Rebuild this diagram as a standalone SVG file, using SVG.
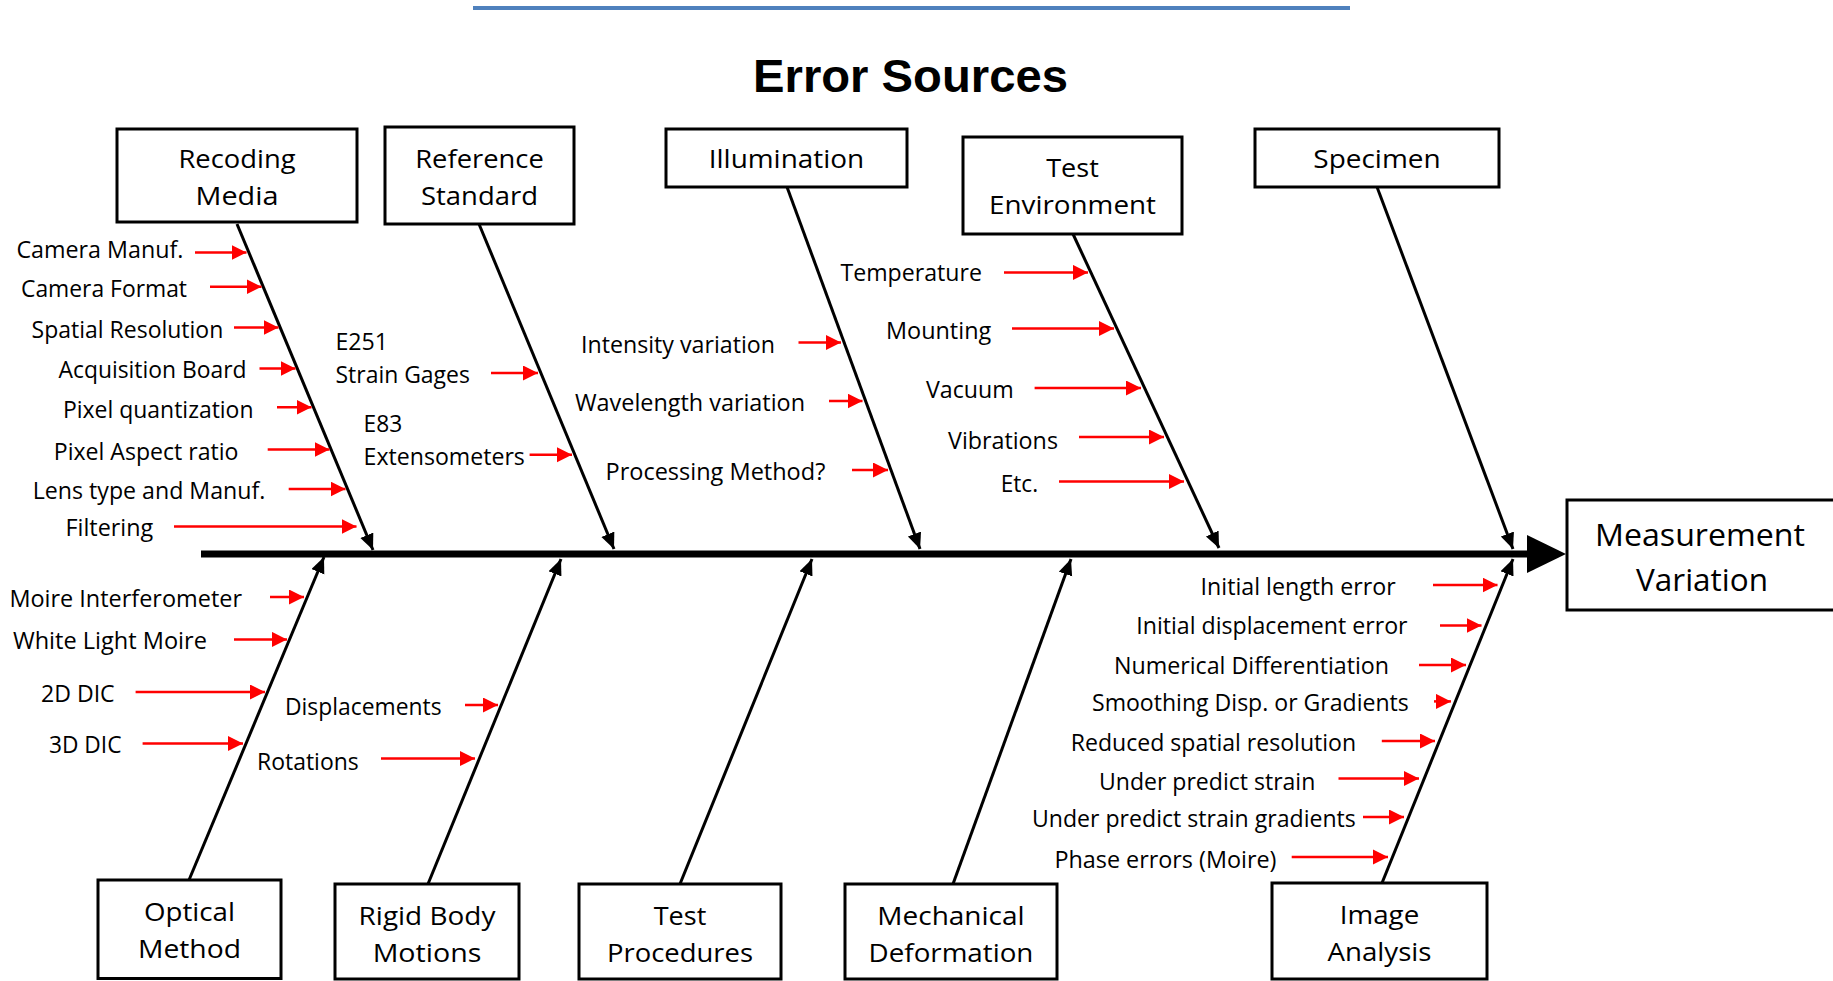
<svg xmlns="http://www.w3.org/2000/svg" width="1833" height="981" viewBox="0 0 1833 981">
<style>
.box{fill:#fff;stroke:#000;stroke-width:3}
.bt{font-family:"Open Sans","Noto Sans",sans-serif;font-size:25px;fill:#000;text-anchor:middle}
.mt{font-family:"Open Sans","Noto Sans",sans-serif;font-size:31px;fill:#000;text-anchor:middle}
.lb{font-family:"Open Sans","Noto Sans",sans-serif;font-size:23.5px;fill:#000}
.bone{stroke:#000;stroke-width:3;fill:none;marker-end:url(#bk)}
.ra{stroke:#f00;stroke-width:2.5;fill:none;marker-end:url(#rd)}
</style>
<defs>
<marker id="bk" markerUnits="userSpaceOnUse" markerWidth="17" markerHeight="15" refX="16" refY="7" orient="auto"><path d="M0,0 L16,7 L0,14 z" fill="#000"/></marker>
<marker id="rd" markerUnits="userSpaceOnUse" markerWidth="16" markerHeight="16" refX="15" refY="7.5" orient="auto"><path d="M0,0 L15,7.5 L0,15 z" fill="#f00"/></marker>
</defs>
<rect width="1833" height="981" fill="#fff"/>
<line x1="473" y1="8" x2="1350" y2="8" stroke="#4F81BD" stroke-width="4"/>
<text x="910.5" y="92" font-family="Liberation Sans, Arial, sans-serif" font-weight="bold" font-size="46" text-anchor="middle" textLength="315" lengthAdjust="spacingAndGlyphs">Error Sources</text>

<g id="connectors">
<line x1="201" y1="554" x2="1530" y2="554" stroke="#000" stroke-width="7"/>
<polygon points="1527,535 1566,554 1527,573" fill="#000"/>
<line class="bone" x1="237" y1="224" x2="373" y2="550"/>
<line class="bone" x1="479" y1="224" x2="614" y2="549"/>
<line class="bone" x1="787" y1="187" x2="920" y2="549"/>
<line class="bone" x1="1073" y1="234" x2="1219" y2="548"/>
<line class="bone" x1="1377" y1="187" x2="1513" y2="549"/>
<line class="bone" x1="189" y1="880" x2="324" y2="557"/>
<line class="bone" x1="428" y1="884" x2="561" y2="559"/>
<line class="bone" x1="680" y1="884" x2="812" y2="559"/>
<line class="bone" x1="953" y1="884" x2="1071" y2="559"/>
<line class="bone" x1="1382" y1="883" x2="1513" y2="559"/>
<line class="ra" x1="195" y1="252.5" x2="246.5" y2="252.5"/>
<line class="ra" x1="210" y1="286.7" x2="261.5" y2="286.7"/>
<line class="ra" x1="234" y1="327.5" x2="278.5" y2="327.5"/>
<line class="ra" x1="259.5" y1="368.5" x2="295.5" y2="368.5"/>
<line class="ra" x1="277" y1="407.3" x2="311.5" y2="407.3"/>
<line class="ra" x1="267.7" y1="449.5" x2="329.5" y2="449.5"/>
<line class="ra" x1="288.7" y1="489" x2="345.5" y2="489"/>
<line class="ra" x1="174" y1="526.5" x2="356.5" y2="526.5"/>
<line class="ra" x1="491" y1="373" x2="538" y2="373"/>
<line class="ra" x1="529.6" y1="454.7" x2="572" y2="454.7"/>
<line class="ra" x1="798.5" y1="342.5" x2="841" y2="342.5"/>
<line class="ra" x1="829" y1="401" x2="862.5" y2="401"/>
<line class="ra" x1="852" y1="470" x2="888" y2="470"/>
<line class="ra" x1="1004" y1="272.4" x2="1088" y2="272.4"/>
<line class="ra" x1="1012" y1="328.5" x2="1114" y2="328.5"/>
<line class="ra" x1="1034.6" y1="388" x2="1141" y2="388"/>
<line class="ra" x1="1079" y1="437" x2="1164" y2="437"/>
<line class="ra" x1="1059" y1="481.6" x2="1184" y2="481.6"/>
<line class="ra" x1="270" y1="597" x2="304" y2="597"/>
<line class="ra" x1="234" y1="639.4" x2="287" y2="639.4"/>
<line class="ra" x1="135.6" y1="692" x2="265" y2="692"/>
<line class="ra" x1="142.6" y1="743.5" x2="243" y2="743.5"/>
<line class="ra" x1="465" y1="705" x2="498" y2="705"/>
<line class="ra" x1="381" y1="758.6" x2="475" y2="758.6"/>
<line class="ra" x1="1433" y1="585" x2="1497.5" y2="585"/>
<line class="ra" x1="1440" y1="625.4" x2="1481.5" y2="625.4"/>
<line class="ra" x1="1419" y1="665" x2="1466" y2="665"/>
<line class="ra" x1="1434" y1="701.4" x2="1451" y2="701.4"/>
<line class="ra" x1="1381.8" y1="741" x2="1435" y2="741"/>
<line class="ra" x1="1338.5" y1="778.5" x2="1419" y2="778.5"/>
<line class="ra" x1="1363" y1="817" x2="1404" y2="817"/>
<line class="ra" x1="1291.7" y1="856.9" x2="1388" y2="856.9"/>
</g>

<g id="recording-media">
<rect class="box" x="117" y="129" width="240" height="93"/>
<text class="bt" x="237" y="168" textLength="117" lengthAdjust="spacingAndGlyphs">Recoding</text>
<text class="bt" x="237" y="205" textLength="83" lengthAdjust="spacingAndGlyphs">Media</text>
<text class="lb" x="16.4" y="258" textLength="167" lengthAdjust="spacingAndGlyphs">Camera Manuf.</text>
<text class="lb" x="21" y="296.6" textLength="166" lengthAdjust="spacingAndGlyphs">Camera Format</text>
<text class="lb" x="31.6" y="337.5" textLength="191.7" lengthAdjust="spacingAndGlyphs">Spatial Resolution</text>
<text class="lb" x="58.5" y="378.4" textLength="188" lengthAdjust="spacingAndGlyphs">Acquisition Board</text>
<text class="lb" x="63" y="418" textLength="190.5" lengthAdjust="spacingAndGlyphs">Pixel quantization</text>
<text class="lb" x="53.8" y="460" textLength="184.7" lengthAdjust="spacingAndGlyphs">Pixel Aspect ratio</text>
<text class="lb" x="32.7" y="499" textLength="232.6" lengthAdjust="spacingAndGlyphs">Lens type and Manuf.</text>
<text class="lb" x="65.5" y="536" textLength="87.7" lengthAdjust="spacingAndGlyphs">Filtering</text>
</g>

<g id="reference-standard">
<rect class="box" x="385" y="127" width="189" height="97"/>
<text class="bt" x="479.5" y="167.5" textLength="128.6" lengthAdjust="spacingAndGlyphs">Reference</text>
<text class="bt" x="479.5" y="205" textLength="117" lengthAdjust="spacingAndGlyphs">Standard</text>
<text class="lb" x="335.5" y="350" textLength="52.6" lengthAdjust="spacingAndGlyphs">E251</text>
<text class="lb" x="335.5" y="383" textLength="134.4" lengthAdjust="spacingAndGlyphs">Strain Gages</text>
<text class="lb" x="363.6" y="432" textLength="38.6" lengthAdjust="spacingAndGlyphs">E83</text>
<text class="lb" x="363.6" y="465" textLength="161.3" lengthAdjust="spacingAndGlyphs">Extensometers</text>
</g>

<g id="illumination">
<rect class="box" x="666" y="129" width="241" height="58"/>
<text class="bt" x="786.5" y="168" textLength="155.5" lengthAdjust="spacingAndGlyphs">Illumination</text>
<text class="lb" x="581" y="352.7" textLength="194" lengthAdjust="spacingAndGlyphs">Intensity variation</text>
<text class="lb" x="575" y="411" textLength="230" lengthAdjust="spacingAndGlyphs">Wavelength variation</text>
<text class="lb" x="605.5" y="480" textLength="219.8" lengthAdjust="spacingAndGlyphs">Processing Method?</text>
</g>

<g id="test-environment">
<rect class="box" x="963" y="137" width="219" height="97"/>
<text class="bt" x="1072.5" y="177" textLength="52.6" lengthAdjust="spacingAndGlyphs">Test</text>
<text class="bt" x="1072.5" y="214" textLength="167" lengthAdjust="spacingAndGlyphs">Environment</text>
<text class="lb" x="840.5" y="281.4" textLength="141.4" lengthAdjust="spacingAndGlyphs">Temperature</text>
<text class="lb" x="886" y="338.7" textLength="105.2" lengthAdjust="spacingAndGlyphs">Mounting</text>
<text class="lb" x="926" y="398" textLength="87.7" lengthAdjust="spacingAndGlyphs">Vacuum</text>
<text class="lb" x="948" y="448.5" textLength="110" lengthAdjust="spacingAndGlyphs">Vibrations</text>
<text class="lb" x="1000.7" y="491.8" textLength="37.4" lengthAdjust="spacingAndGlyphs">Etc.</text>
</g>

<g id="specimen">
<rect class="box" x="1255" y="129" width="244" height="58"/>
<text class="bt" x="1377" y="168" textLength="127.4" lengthAdjust="spacingAndGlyphs">Specimen</text>
</g>

<g id="measurement-variation">
<rect class="box" x="1567" y="500" width="270" height="110"/>
<text class="mt" x="1700" y="546" textLength="210" lengthAdjust="spacingAndGlyphs">Measurement</text>
<text class="mt" x="1702" y="591" textLength="132" lengthAdjust="spacingAndGlyphs">Variation</text>
</g>

<g id="optical-method">
<rect class="box" x="98" y="880" width="183" height="98.5"/>
<text class="bt" x="189.5" y="920.5" textLength="91" lengthAdjust="spacingAndGlyphs">Optical</text>
<text class="bt" x="189.5" y="957.5" textLength="103" lengthAdjust="spacingAndGlyphs">Method</text>
<text class="lb" x="9.4" y="607" textLength="232.6" lengthAdjust="spacingAndGlyphs">Moire Interferometer</text>
<text class="lb" x="12.9" y="649" textLength="194" lengthAdjust="spacingAndGlyphs">White Light Moire</text>
<text class="lb" x="41" y="701.5" textLength="73.6" lengthAdjust="spacingAndGlyphs">2D DIC</text>
<text class="lb" x="49" y="753" textLength="72.5" lengthAdjust="spacingAndGlyphs">3D DIC</text>
</g>

<g id="rigid-body-motions">
<rect class="box" x="335" y="884" width="184" height="95"/>
<text class="bt" x="427" y="924.5" textLength="136.8" lengthAdjust="spacingAndGlyphs">Rigid Body</text>
<text class="bt" x="427" y="961.5" textLength="108.7" lengthAdjust="spacingAndGlyphs">Motions</text>
<text class="lb" x="285" y="714.5" textLength="156.6" lengthAdjust="spacingAndGlyphs">Displacements</text>
<text class="lb" x="257" y="769.5" textLength="101.7" lengthAdjust="spacingAndGlyphs">Rotations</text>
</g>

<g id="test-procedures">
<rect class="box" x="579" y="884" width="202" height="95"/>
<text class="bt" x="680" y="924.5" textLength="52.6" lengthAdjust="spacingAndGlyphs">Test</text>
<text class="bt" x="680" y="961.5" textLength="146" lengthAdjust="spacingAndGlyphs">Procedures</text>
</g>

<g id="mechanical-deformation">
<rect class="box" x="845" y="884" width="212" height="95"/>
<text class="bt" x="951" y="924.5" textLength="147.3" lengthAdjust="spacingAndGlyphs">Mechanical</text>
<text class="bt" x="951" y="961.5" textLength="164.8" lengthAdjust="spacingAndGlyphs">Deformation</text>
</g>

<g id="image-analysis">
<rect class="box" x="1272" y="883" width="215" height="96"/>
<text class="bt" x="1379.5" y="924" textLength="79.5" lengthAdjust="spacingAndGlyphs">Image</text>
<text class="bt" x="1379.5" y="961" textLength="104" lengthAdjust="spacingAndGlyphs">Analysis</text>
<text class="lb" x="1200.6" y="595.3" textLength="195.2" lengthAdjust="spacingAndGlyphs">Initial length error</text>
<text class="lb" x="1136.3" y="633.9" textLength="271.2" lengthAdjust="spacingAndGlyphs">Initial displacement error</text>
<text class="lb" x="1114" y="673.5" textLength="275" lengthAdjust="spacingAndGlyphs">Numerical Differentiation</text>
<text class="lb" x="1092" y="711.1" textLength="316.8" lengthAdjust="spacingAndGlyphs">Smoothing Disp. or Gradients</text>
<text class="lb" x="1070.8" y="750.8" textLength="285.3" lengthAdjust="spacingAndGlyphs">Reduced spatial resolution</text>
<text class="lb" x="1099" y="789.5" textLength="216.3" lengthAdjust="spacingAndGlyphs">Under predict strain</text>
<text class="lb" x="1032" y="826.8" textLength="323.8" lengthAdjust="spacingAndGlyphs">Under predict strain gradients</text>
<text class="lb" x="1054.4" y="867.7" textLength="222.1" lengthAdjust="spacingAndGlyphs">Phase errors (Moire)</text>
</g>
</svg>
